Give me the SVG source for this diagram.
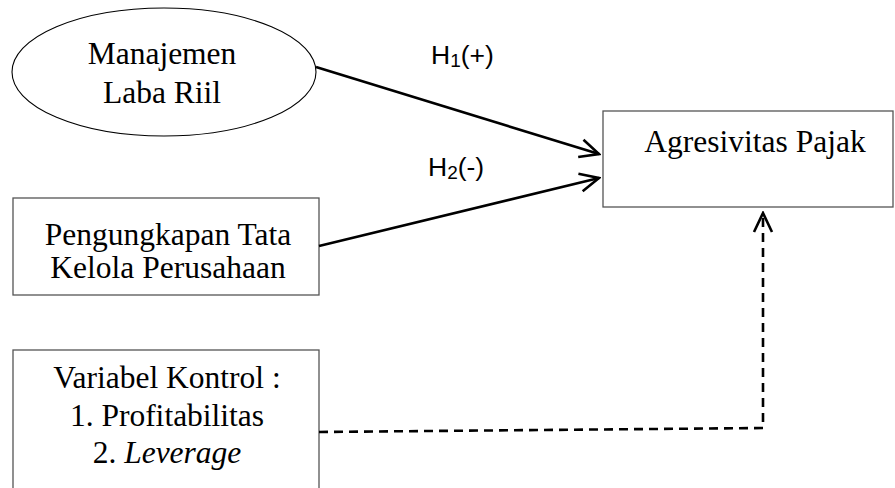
<svg xmlns="http://www.w3.org/2000/svg" width="895" height="488" viewBox="0 0 895 488">
<style>
.node{fill:#fff;stroke:#555;stroke-width:1.3}
.ell{fill:#fff;stroke:#000;stroke-width:1.1}
.t{font-family:"Liberation Serif","Times New Roman",serif;font-size:31.5px;fill:#000;text-anchor:middle}
.lbl{font-family:"Liberation Sans",Arial,sans-serif;font-size:26.5px;fill:#000}
.sub{font-size:19px}
.c{fill:none;stroke:#000;stroke-width:2.6}
.d{fill:none;stroke:#000;stroke-width:2.6;stroke-dasharray:9 6}
</style>
<defs>
<marker id="open" viewBox="0 0 22 22" refX="20" refY="11" markerWidth="22" markerHeight="22" markerUnits="userSpaceOnUse" orient="auto">
<path d="M1 2 L20 11 L1 20" fill="none" stroke="#000" stroke-width="2.6"/>
</marker>
</defs>
<g id="manajemen-laba-riil">
<ellipse class="ell" cx="164" cy="72" rx="152" ry="64"/>
<text class="t" x="162" y="64">Manajemen</text>
<text class="t" x="162" y="103">Laba Riil</text>
</g>
<g id="pengungkapan-tata-kelola">
<rect class="node" x="13" y="198" width="306" height="97"/>
<text class="t" x="168" y="245">Pengungkapan Tata</text>
<text class="t" x="168" y="278">Kelola Perusahaan</text>
</g>
<g id="variabel-kontrol">
<rect class="node" x="13" y="350" width="306" height="160"/>
<text class="t" x="167" y="388">Variabel Kontrol :</text>
<text class="t" x="167" y="426">1. Profitabilitas</text>
<text class="t" x="167" y="463">2. <tspan font-style="italic">Leverage</tspan></text>
</g>
<g id="agresivitas-pajak">
<rect class="node" x="603" y="111" width="290" height="96"/>
<text class="t" x="755" y="152">Agresivitas Pajak</text>
</g>
<g id="connectors">
<line class="c" x1="316" y1="67" x2="599" y2="154" marker-end="url(#open)"/>
<line class="c" x1="319" y1="246" x2="599" y2="178" marker-end="url(#open)"/>
<polyline class="d" points="319,432 763,428 763,213" marker-end="url(#open)"/>
</g>
<g id="labels">
<text class="lbl" x="431" y="64">H<tspan class="sub" dy="3">1</tspan><tspan dy="-3">(+)</tspan></text>
<text class="lbl" x="428" y="176">H<tspan class="sub" dy="3">2</tspan><tspan dy="-3">(-)</tspan></text>
</g>
</svg>
